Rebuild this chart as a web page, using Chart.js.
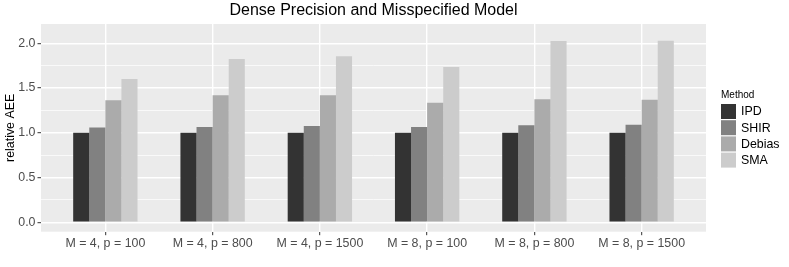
<!DOCTYPE html>
<html>
<head>
<meta charset="utf-8">
<script src="https://cdn.jsdelivr.net/npm/chart.js@4.4.1/dist/chart.umd.min.js"></script>
<style>
    html, body { margin: 0; padding: 0; background: #ffffff; }
    #wrap { position: relative; width: 789px; height: 267px; }
</style>
</head>
<body>
<div id="wrap"><canvas id="aee-chart" width="789" height="267"></canvas></div>
<script>
// Relative AEE by setting and method

const categories = ['M = 4, p = 100', 'M = 4, p = 800', 'M = 4, p = 1500',
                    'M = 8, p = 100', 'M = 8, p = 800', 'M = 8, p = 1500'];
const methods = ['IPD', 'SHIR', 'Debias', 'SMA'];

const ipdValues    = [1.00, 1.00, 1.00, 1.00, 1.00, 1.00];
const shirValues   = [1.06, 1.065, 1.075, 1.065, 1.085, 1.09];
const debiasValues = [1.365, 1.42, 1.42, 1.335, 1.375, 1.37];
const smaValues    = [1.60, 1.825, 1.855, 1.735, 2.025, 2.03];

const yTicks = [0, 0.25, 0.5, 0.75, 1, 1.25, 1.5, 1.75, 2];

const fills = ['#333333', '#818181', '#ababab', '#cccccc'];
const FONT = '"Liberation Sans", Arial, Helvetica, sans-serif';

function toPoints(values) {
    return values.map((v, i) => ({ x: i + 1, y: v }));
}

const seriesValues = [ipdValues, shirValues, debiasValues, smaValues];

// Grey panel behind the grid
const panelPlugin = {
    id: 'panel',
    beforeDraw(chart) {
        const { ctx, chartArea } = chart;
        ctx.save();
        ctx.fillStyle = '#ebebeb';
        ctx.fillRect(chartArea.left, chartArea.top, chartArea.right - chartArea.left, chartArea.bottom - chartArea.top);
        ctx.restore();
    }
};

// Title, y-axis label and legend drawn ggplot style
const decorPlugin = {
    id: 'decor',
    afterDraw(chart) {
        const { ctx, chartArea } = chart;
        ctx.save();

        // title centred on the panel
        ctx.fillStyle = '#000000';
        ctx.font = '16px ' + FONT;
        ctx.textAlign = 'center';
        ctx.textBaseline = 'middle';
        ctx.fillText('Dense Precision and Misspecified Model', (chartArea.left + chartArea.right) / 2, 11);

        // y axis title
        ctx.save();
        ctx.translate(11, (chartArea.top + chartArea.bottom) / 2);
        ctx.rotate(-Math.PI / 2);
        ctx.font = '12.4px ' + FONT;
        ctx.fillText('relative AEE', 0, 0);
        ctx.restore();

        // legend
        const lx = 721;
        ctx.textAlign = 'left';
        ctx.font = '10px ' + FONT;
        ctx.fillText('Method', lx, 95);
        ctx.font = '12.4px ' + FONT;
        chart.data.datasets.forEach((ds, i) => {
            const top = 104 + i * 16.2;
            ctx.fillStyle = ds.backgroundColor;
            ctx.fillRect(lx, top, 15, 15);
            ctx.fillStyle = '#000000';
            ctx.fillText(ds.label, lx + 20, top + 8);
        });
        ctx.restore();
    }
};

const ctx = document.getElementById('aee-chart').getContext('2d');
window.aeeChart = new Chart(ctx, {
    type: 'bar',
    data: {
        datasets: methods.map((m, i) => ({
            label: m,
            data: toPoints(seriesValues[i]),
            backgroundColor: fills[i],
            borderWidth: 0,
            categoryPercentage: 0.6,
            barPercentage: 1.0
        }))
    },
    options: {
        responsive: false,
        animation: false,
        layout: { padding: { top: 24, right: 83, left: 0, bottom: 0 } },
        plugins: {
            legend: { display: false },
            title: { display: false },
            tooltip: { enabled: false }
        },
        scales: {
            x: {
                type: 'linear',
                min: 0.4,
                max: 6.6,
                offset: false,
                afterBuildTicks: (scale) => {
                    scale.ticks = categories.map((c, i) => ({ value: i + 1 }));
                },
                afterFit: (scale) => { scale.height = 35.3; },
                border: { display: false },
                grid: {
                    offset: false,
                    color: '#ffffff',
                    lineWidth: 1.4,
                    tickColor: '#333333',
                    tickLength: 3.5,
                    tickWidth: 1
                },
                ticks: {
                    padding: 1,
                    color: '#4d4d4d',
                    font: { family: FONT, size: 12.4 },
                    maxRotation: 0,
                    autoSkip: false,
                    callback: (value) => categories[Math.round(value) - 1]
                }
            },
            y: {
                min: -0.105,
                max: 2.216,
                afterBuildTicks: (scale) => {
                    scale.ticks = yTicks.map(v => ({ value: v }));
                },
                afterFit: (scale) => { scale.width = 41; },
                border: { display: false },
                grid: {
                    color: '#ffffff',
                    lineWidth: (c) => (c.tick && c.tick.value % 0.5 === 0 ? 1.4 : 0.7),
                    tickColor: (c) => (c.tick && c.tick.value % 0.5 === 0 ? '#333333' : 'rgba(0,0,0,0)'),
                    tickLength: 3.5,
                    tickWidth: 1
                },
                ticks: {
                    padding: 2,
                    color: '#4d4d4d',
                    font: { family: FONT, size: 12.4 },
                    callback: (value) => (value % 0.5 === 0 ? value.toFixed(1) : '')
                }
            }
        }
    },
    plugins: [panelPlugin, decorPlugin]
});
</script>
</body>
</html>
